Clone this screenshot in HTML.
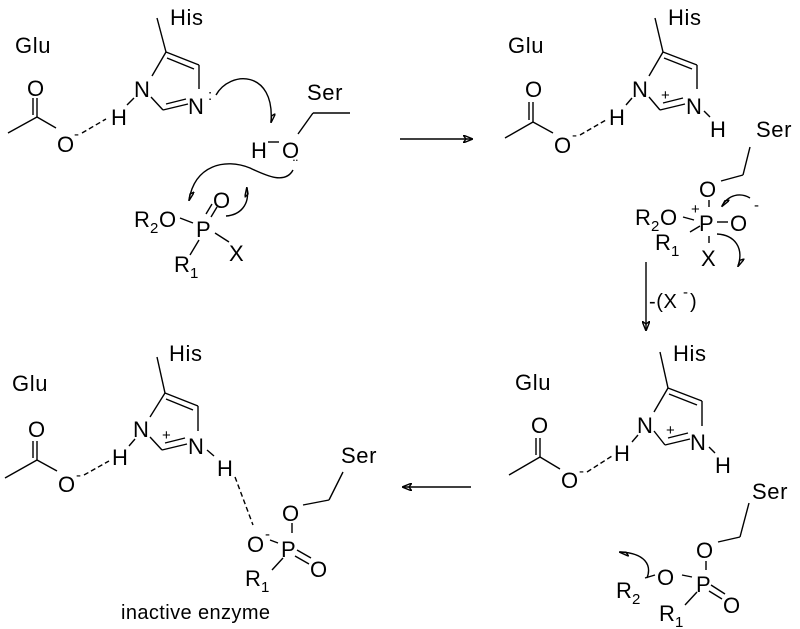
<!DOCTYPE html>
<html><head><style>
html,body{margin:0;padding:0;background:#fff;}
svg{display:block;font-family:"Liberation Sans",Arial,sans-serif;}
svg text{font-size:22px;letter-spacing:0.6px;fill:#000;}
svg text.s{font-size:15px;letter-spacing:0;}
svg text.m{font-size:20px;}
line,path,polyline{stroke:#000;stroke-width:1.4;fill:none;}
.d{stroke-dasharray:5,3;}
</style></head><body>
<svg width="800" height="629" viewBox="0 0 800 629" font-size="22">
<defs>
<marker id="a" markerWidth="10" markerHeight="8" refX="9" refY="4" orient="auto" markerUnits="userSpaceOnUse"><path d="M0,0 L10,4 L0,8 L3,4z" fill="#000" stroke="none"/></marker>
<marker id="h" markerWidth="10" markerHeight="8" refX="9" refY="4" orient="auto" markerUnits="userSpaceOnUse"><path d="M0,0 L10,4 L3,4z" fill="#000" stroke="none"/></marker>
</defs>

<!-- ===== Q1 ===== -->
<text x="170" y="25">His</text>
<text x="15" y="53">Glu</text>
<line x1="8" y1="133" x2="37" y2="117"/>
<line x1="37" y1="117" x2="37" y2="98"/><line x1="33" y1="115" x2="33" y2="98"/>
<text x="27" y="96">O</text>
<line x1="37" y1="117" x2="56" y2="128"/>
<text x="57" y="152">O</text><text x="74" y="139" class="s">-</text>
<line class="d" x1="82" y1="133" x2="106" y2="119"/>
<text x="111" y="125">H</text>
<line x1="127" y1="105" x2="134" y2="98"/>
<text x="134" y="97">N</text>
<line x1="157" y1="18" x2="166" y2="52"/>
<line x1="166" y1="52" x2="152" y2="76"/>
<line x1="166" y1="52" x2="199" y2="65"/><line x1="167" y1="58" x2="194" y2="69"/>
<line x1="199" y1="65" x2="199" y2="89"/>
<line x1="151" y1="97" x2="163" y2="110"/>
<line x1="163" y1="110" x2="188" y2="104"/><line x1="166" y1="104" x2="186" y2="99"/>
<text x="188" y="114">N</text>
<text x="208" y="100" class="s">:</text>
<path d="M216,95 C230,70 275,70 271,122" marker-end="url(#h)"/>
<text x="251" y="158">H</text>
<line x1="268" y1="142" x2="279" y2="142"/>
<text x="282" y="158">O</text>
<line x1="298" y1="134" x2="313" y2="113"/><line x1="313" y1="113" x2="350" y2="113"/>
<text x="307" y="100">Ser</text>
<text x="293" y="170" class="s">¨</text>
<path d="M293,170 C285,185 265,175 250,168 C225,158 195,165 189,200" marker-end="url(#h)"/>
<path d="M226,216 C240,215 250,205 247,188" marker-end="url(#h)"/>
<text x="134" y="227">R</text><text x="150" y="233" class="s">2</text><text x="159" y="227">O</text>
<line x1="180" y1="218" x2="193" y2="223"/>
<text x="196" y="237">P</text>
<line x1="206" y1="214" x2="212" y2="204"/><line x1="211" y1="217" x2="217" y2="207"/>
<text x="213" y="208">O</text>
<line x1="215" y1="233" x2="229" y2="242"/>
<text x="229" y="261">X</text>
<line x1="199" y1="240" x2="190" y2="255"/>
<text x="174" y="272">R</text><text x="190" y="278" class="s">1</text>

<!-- arrow right -->
<line x1="400" y1="139" x2="472" y2="139" marker-end="url(#a)"/>

<!-- ===== Q2 ===== -->
<text x="668" y="25">His</text>
<text x="508" y="53">Glu</text>
<line x1="505" y1="138" x2="533" y2="122"/>
<line x1="533" y1="122" x2="533" y2="102"/><line x1="529" y1="120" x2="529" y2="102"/>
<text x="525" y="97">O</text>
<line x1="533" y1="122" x2="553" y2="133"/>
<text x="554" y="153">O</text><text x="572" y="140" class="s">-</text>
<line class="d" x1="580" y1="135" x2="606" y2="120"/>
<text x="609" y="125">H</text>
<line x1="626" y1="105" x2="632" y2="98"/>
<text x="632" y="97">N</text>
<line x1="655" y1="18" x2="663" y2="52"/>
<line x1="663" y1="52" x2="649" y2="76"/>
<line x1="663" y1="52" x2="697" y2="65"/><line x1="664" y1="58" x2="692" y2="69"/>
<line x1="697" y1="65" x2="697" y2="89"/>
<line x1="649" y1="97" x2="660" y2="110"/>
<line x1="660" y1="110" x2="685" y2="104"/>
<text x="661" y="100" class="s">+</text><line x1="663" y1="103" x2="683" y2="98"/>
<text x="686" y="114">N</text>
<line x1="704" y1="111" x2="710" y2="117"/>
<text x="710" y="137">H</text>
<text x="756" y="137">Ser</text>
<line x1="750" y1="147" x2="743" y2="175"/><line x1="743" y1="175" x2="721" y2="181"/>
<text x="699" y="197">O</text>
<line x1="709" y1="200" x2="709" y2="207"/>
<text x="691" y="214" class="s">+</text>
<text x="635" y="225">R</text><text x="651" y="231" class="s">2</text><text x="660" y="225">O</text>
<line x1="683" y1="217" x2="694" y2="220"/>
<text x="699" y="231">P</text>
<line x1="717" y1="222" x2="728" y2="222"/>
<text x="730" y="231">O</text><text x="754" y="210" class="s">-</text>
<path d="M750,198 C740,192 728,195 722,206" marker-end="url(#h)"/>
<line x1="700" y1="226" x2="690" y2="232"/>
<text x="655" y="250">R</text><text x="671" y="256" class="s">1</text>
<line x1="709" y1="236" x2="709" y2="243"/>
<text x="701" y="266">X</text>
<path d="M717,234 C735,235 744,248 738,266" marker-end="url(#h)"/>

<!-- down arrow -->
<line x1="646" y1="262" x2="646" y2="330" marker-end="url(#a)"/>
<text x="649" y="308" class="m">-(X</text><text x="683" y="297" class="s">-</text><text x="690" y="308" class="m">)</text>

<!-- ===== Q4 ===== -->
<text x="673" y="361">His</text>
<text x="515" y="390">Glu</text>
<line x1="509" y1="475" x2="540" y2="457"/>
<line x1="540" y1="457" x2="540" y2="438"/><line x1="536" y1="455" x2="536" y2="438"/>
<text x="531" y="433">O</text>
<line x1="540" y1="457" x2="560" y2="469"/>
<text x="561" y="488">O</text><text x="579" y="476" class="s">-</text>
<line class="d" x1="587" y1="472" x2="612" y2="456"/>
<text x="614" y="461">H</text>
<line x1="632" y1="442" x2="638" y2="435"/>
<text x="637" y="433">N</text>
<line x1="660" y1="352" x2="668" y2="388"/>
<line x1="668" y1="388" x2="654" y2="412"/>
<line x1="668" y1="388" x2="702" y2="401"/><line x1="669" y1="394" x2="697" y2="405"/>
<line x1="702" y1="401" x2="702" y2="426"/>
<line x1="654" y1="431" x2="665" y2="445"/>
<line x1="665" y1="445" x2="690" y2="439"/>
<text x="666" y="435" class="s">+</text><line x1="668" y1="438" x2="688" y2="433"/>
<text x="690" y="450">N</text>
<line x1="709" y1="447" x2="715" y2="453"/>
<text x="715" y="473">H</text>
<text x="752" y="499">Ser</text>
<line x1="749" y1="503" x2="740" y2="537"/><line x1="740" y1="537" x2="718" y2="542"/>
<text x="696" y="558">O</text>
<line x1="706" y1="561" x2="706" y2="570"/>
<text x="616" y="598">R</text><text x="632" y="604" class="s">2</text>
<line x1="645" y1="578" x2="655" y2="575"/>
<text x="657" y="585">O</text>
<line x1="682" y1="575" x2="692" y2="577"/>
<text x="696" y="592">P</text>
<line x1="711" y1="585" x2="725" y2="594"/><line x1="709" y1="591" x2="722" y2="599"/>
<text x="723" y="613">O</text>
<line x1="697" y1="592" x2="685" y2="605"/>
<text x="659" y="621">R</text><text x="675" y="627" class="s">1</text>
<path d="M647,578 C652,565 645,553 620,552" marker-end="url(#h)"/>

<!-- arrow left -->
<line x1="471" y1="487" x2="403" y2="487" marker-end="url(#a)"/>

<!-- ===== Q3 ===== -->
<text x="169" y="361">His</text>
<text x="12" y="391">Glu</text>
<line x1="5" y1="478" x2="37" y2="460"/>
<line x1="37" y1="460" x2="37" y2="441"/><line x1="33" y1="458" x2="33" y2="441"/>
<text x="28" y="437">O</text>
<line x1="37" y1="460" x2="57" y2="471"/>
<text x="58" y="492">O</text><text x="76" y="480" class="s">-</text>
<line class="d" x1="84" y1="475" x2="109" y2="461"/>
<text x="112" y="465">H</text>
<line x1="129" y1="446" x2="135" y2="439"/>
<text x="133" y="437">N</text>
<line x1="157" y1="357" x2="165" y2="393"/>
<line x1="165" y1="393" x2="150" y2="417"/>
<line x1="165" y1="393" x2="198" y2="406"/><line x1="166" y1="399" x2="193" y2="410"/>
<line x1="198" y1="406" x2="198" y2="431"/>
<line x1="150" y1="437" x2="162" y2="450"/>
<line x1="162" y1="450" x2="187" y2="444"/>
<text x="162" y="440" class="s">+</text><line x1="165" y1="443" x2="185" y2="438"/>
<text x="188" y="454">N</text>
<line x1="207" y1="450" x2="214" y2="456"/>
<text x="217" y="476">H</text>
<line class="d" x1="235" y1="477" x2="253" y2="525"/>
<text x="247" y="552">O</text><text x="265" y="539" class="s">-</text>
<line x1="270" y1="540" x2="278" y2="543"/>
<text x="281" y="557">P</text>
<line x1="292" y1="523" x2="292" y2="533"/>
<text x="282" y="521">O</text>
<line x1="303" y1="505" x2="329" y2="500"/><line x1="329" y1="500" x2="343" y2="472"/>
<text x="341" y="463">Ser</text>
<line x1="297" y1="550" x2="311" y2="558"/><line x1="295" y1="556" x2="309" y2="564"/>
<text x="310" y="577">O</text>
<line x1="283" y1="558" x2="272" y2="570"/>
<text x="245" y="586">R</text><text x="261" y="592" class="s">1</text>
<text x="121" y="619" class="m" style="letter-spacing:0.4px">inactive enzyme</text>
</svg>
</body></html>
